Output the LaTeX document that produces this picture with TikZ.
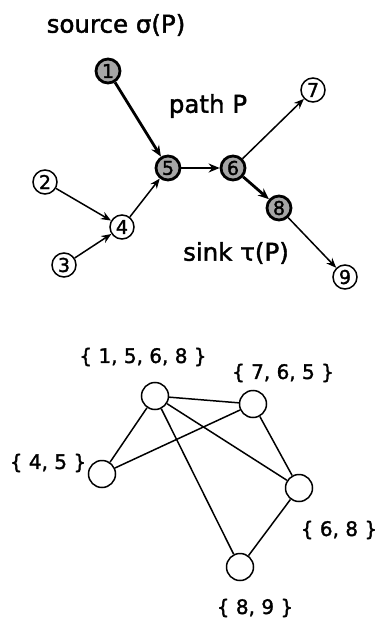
\documentclass[tikz,border=0pt]{standalone}
\usepackage{fontspec}
\setmainfont[FakeBold=1.6]{DejaVu Sans}
\usetikzlibrary{arrows.meta}
\begin{document}
\begin{tikzpicture}[x=1pt,y=-1pt,
  vtx/.style={circle,draw,line width=1.5pt,minimum size=24pt,inner sep=0pt,font=\fontsize{19}{19}\selectfont},
  pvtx/.style={vtx,fill=gray!70,line width=2.8pt},
  cl/.style={circle,draw,line width=1.5pt,minimum size=27pt,inner sep=0pt},
  lab/.style={font=\fontsize{24.5}{24.5}\selectfont},
  slab/.style={font=\fontsize{20}{20}\selectfont},
  thin arr/.style={-{Stealth[length=10pt,width=8pt]},line width=1.5pt},
  thick arr/.style={-{Stealth[length=11pt,width=9pt]},line width=2.8pt},
  edge/.style={line width=1.5pt}]
\useasboundingbox (0,0) rectangle (379,620);
% top graph
\node[lab] (src) at (116,25) {source σ(P)};
\node[lab] (pth) at (208,106) {path P};
\node[lab] (snk) at (236,253) {sink τ(P)};
\node[pvtx] (n1) at (108,71) {1};
\node[pvtx] (n5) at (168,168) {5};
\node[pvtx] (n6) at (233,168) {6};
\node[pvtx] (n8) at (279,208) {8};
\node[vtx] (n7) at (313,90) {7};
\node[vtx] (n9) at (345,277) {9};
\node[vtx] (n2) at (45,182) {2};
\node[vtx] (n3) at (64,265) {3};
\node[vtx] (n4) at (122,227) {4};
\draw[thick arr] (n1) -- (n5);
\draw[thick arr] (n5) -- (n6);
\draw[thick arr] (n6) -- (n8);
\draw[thin arr] (n6) -- (n7);
\draw[thin arr] (n8) -- (n9);
\draw[thin arr] (n2) -- (n4);
\draw[thin arr] (n3) -- (n4);
\draw[thin arr] (n4) -- (n5);
% bottom graph
\node[cl] (a) at (155,396) {};
\node[cl] (b) at (253,404) {};
\node[cl] (c) at (102,474) {};
\node[cl] (d) at (299,488) {};
\node[cl] (e) at (240,567) {};
\node[slab] (la) at (143,357) {\{ 1, 5, 6, 8 \}};
\node[slab] (lb) at (283,373) {\{ 7, 6, 5 \}};
\node[slab] (lc) at (48,463) {\{ 4, 5 \}};
\node[slab] (ld) at (339,530) {\{ 6, 8 \}};
\node[slab] (le) at (255,608) {\{ 8, 9 \}};
\draw[edge] (a) -- (b);
\draw[edge] (a) -- (c);
\draw[edge] (a) -- (d);
\draw[edge] (a) -- (e);
\draw[edge] (b) -- (c);
\draw[edge] (b) -- (d);
\draw[edge] (d) -- (e);
\end{tikzpicture}
\end{document}
